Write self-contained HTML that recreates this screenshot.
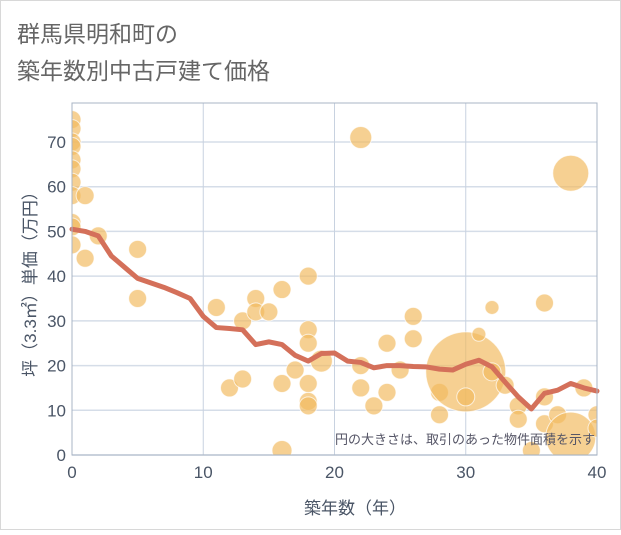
<!DOCTYPE html>
<html><head><meta charset="utf-8"><style>
body{margin:0;background:#fff;}
svg text{font-family:"Liberation Sans","Noto Sans CJK JP",sans-serif;}
</style></head><body>
<svg id="c" width="621" height="530" xmlns="http://www.w3.org/2000/svg">
<rect x="0.5" y="0.5" width="620" height="529" fill="#fff" stroke="#d8d8d8"/>
<text x="17" y="42" font-size="23" fill="#666">群馬県明和町の</text>
<text x="17" y="79" font-size="23" fill="#666">築年数別中古戸建て価格</text>
<defs><clipPath id="pc"><rect x="72" y="103" width="525" height="352"/></clipPath></defs>
<g id="grid"></g>
<g id="bubbles" clip-path="url(#pc)"></g>
<g id="line"></g>
<rect x="72" y="103" width="525" height="352" fill="none" stroke="#a8b4c4" stroke-width="1"/>
<g id="ticks"></g>
<text x="595" y="444" font-size="13" fill="#556" text-anchor="end">円の大きさは、取引のあった物件面積を示す</text>
<text x="355" y="514" font-size="17" fill="#4a5566" text-anchor="middle">築年数（年）</text>
<text transform="translate(36,280) rotate(-90)" font-size="17" fill="#4a5566" text-anchor="middle">坪（3.3㎡）単価（万円）</text>
</svg>
<script>
const xTicks=[0,10,20,30,40];
const yTicks=[0,10,20,30,40,50,60,70];
const lineX=[0,1,2,3,4,5,6,7,8,9,10,11,12,13,14,15,16,17,18,19,20,21,22,23,24,25,26,27,28,29,30,31,32,33,34,35,36,37,38,39,40];
const lineY=[50.5,50,49,44.5,42,39.5,38.5,37.5,36.3,35,31,28.5,28.3,28,24.7,25.3,24.7,22.3,21,22.7,22.8,21,20.7,19.5,20,20,19.8,19.7,19.2,19,20.3,21.2,19.7,16.3,13,10.3,13.8,14.5,16,15,14.3];
const bubX=[0,0,0,0,0,0,0,0,0,0,0,1,1,2,5,5,11,12,13,13,14,14,15,16,16,16,17,18,18,18,18,18,18,19,22,22,22,23,24,24,25,26,26,28,28,30,30,31,32,32,33,34,34,35,36,36,36,37,38,38,39,40,40];
const bubY=[75,73,70,69,66,64,61,58,52,51,47,58,44,49,46,35,33,15,30,17,35,32,32,37,16,1,19,40,28,25,16,12,11,21,71,20,15,11,25,14,19,31,26,14,9,18.6,13,27,33,18.6,15.6,11,8,1,34,13,7,9,63,4,15,9,6];
const bubR=[9,9,9,9,9,9,9,9,9,9,9,9,9,9,9,9,9,9,9,9,9,9,9,9,9,10,9,9,9,9,9,9,9,11,11,9,9,9,9,9,9,9,9,9,9,40,9,7,7,9,9,9,9,9,9,9,9,9,18,25,9,9,9];
const L=72,R=597,B=455,T=103;
const sx=v=>L+v*(R-L)/40;
const sy=v=>B-v*(455-142)/70;
const NS="http://www.w3.org/2000/svg";
function mk(tag,attrs,parent){const e=document.createElementNS(NS,tag);for(const k in attrs)e.setAttribute(k,attrs[k]);parent.appendChild(e);return e;}
const grid=document.getElementById('grid'),ticks=document.getElementById('ticks');
yTicks.forEach(v=>{
 const g=mk('line',{x1:L,x2:R,y1:sy(v),y2:sy(v),stroke:'#d5dde8','stroke-width':1.5},grid);
 
 
 const t=mk('text',{x:L-6,y:sy(v)+6,'font-size':17,fill:'#4a5566','text-anchor':'end'},ticks);
 t.textContent=v;
 
 
});
xTicks.forEach(v=>{
 const g=mk('line',{x1:sx(v),x2:sx(v),y1:T,y2:B,stroke:'#c8d2e0','stroke-width':1},grid);
 
 
 const t=mk('text',{x:sx(v),y:B+23,'font-size':17,fill:'#4a5566','text-anchor':'middle'},ticks);
 t.textContent=v;
 
 
});
const bg=document.getElementById('bubbles');
bubX.forEach((x,i)=>{
 const c=mk('circle',{cx:sx(x),cy:sy(bubY[i]),r:bubR[i],fill:'rgba(242,185,95,0.68)',stroke:'rgba(255,255,255,0.7)','stroke-width':1},bg);
 
 
});
const pts=lineX.map((x,i)=>sx(x)+','+sy(lineY[i])).join(' ');
const pl=mk('polyline',{points:pts,fill:'none',stroke:'#d4705a','stroke-width':5,'stroke-linejoin':'round','stroke-linecap':'round'},document.getElementById('line'));


</script>
</body></html>
